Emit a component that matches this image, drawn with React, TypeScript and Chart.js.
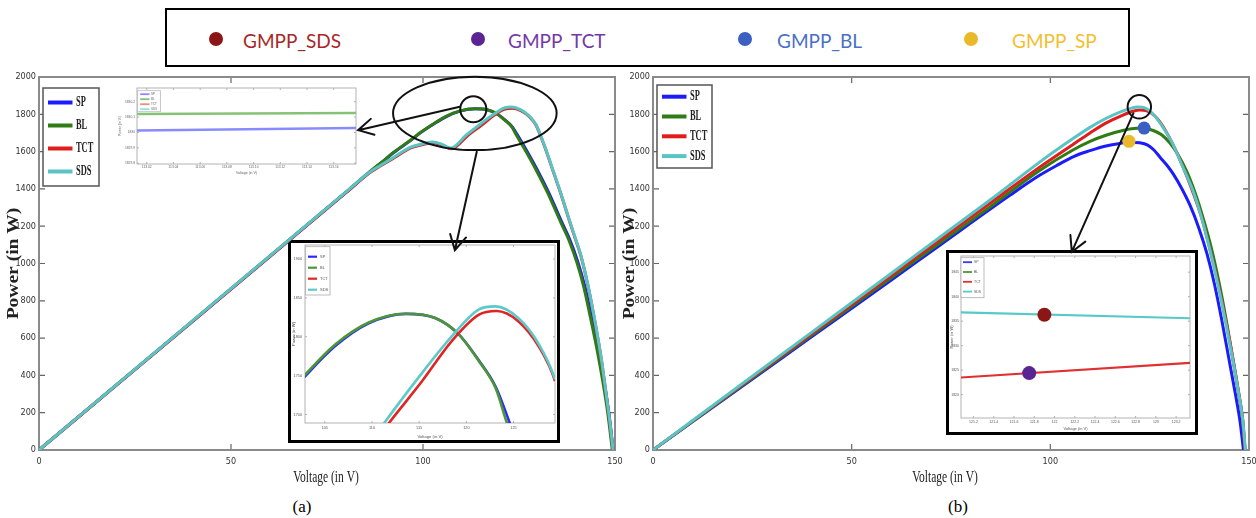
import React, { useEffect, useRef } from "react";
import { Chart, registerables } from "chart.js";
Chart.register(...registerables);

// ================= DATA =================
const seriesNames = ["SP", "BL", "TCT", "SDS"];
const gmppLabels = ["GMPP_SDS", "GMPP_TCT", "GMPP_BL", "GMPP_SP"];

// ---- panel (a): P–V curves (V in volts, P in watts) ----
const aSP_V = [0, 20, 40, 60, 80, 86, 90, 92.4, 96.8, 99.5, 102.9, 106.1, 109.6, 113.6, 116.7, 119.2, 121.3, 123.1, 124.6, 126.6, 129.8, 132.8, 136.3, 138.3, 140.3, 142.1, 143.8, 145.6, 147.1, 148.4, 149.5];
const aSP_P = [0, 345, 690, 1036, 1382, 1488, 1554, 1595, 1660, 1703, 1749, 1788, 1817, 1829.4, 1824, 1803, 1770, 1736, 1689, 1619, 1500, 1377, 1215, 1125, 1010, 880, 720, 540, 370, 200, 0];
const aBL_V = [0, 20, 40, 60, 80, 86, 90, 92.4, 96.8, 99.5, 102.9, 106.1, 109.6, 113.6, 116.7, 119.2, 121.3, 123.1, 124.3, 126.3, 129.5, 132.5, 136, 138, 140, 141.8, 143.5, 145.3, 146.8, 148.1, 149.3];
const aBL_P = [0, 346, 692, 1038, 1384, 1490, 1556, 1597, 1662, 1705, 1751, 1790, 1818, 1829.5, 1824, 1803, 1769, 1734, 1689, 1619, 1500, 1377, 1215, 1125, 1010, 880, 720, 540, 370, 200, 0];
const aTCT_V = [0, 20, 40, 60, 80, 86, 89, 92.4, 96.8, 100, 102.5, 104.5, 107.4, 111.8, 115.2, 118.5, 121.3, 123.2, 125.5, 127.7, 129.4, 131.5, 134.1, 136, 138, 139.6, 141.1, 143, 145, 146.5, 147.7, 148.7, 149.5];
const aTCT_P = [0, 345, 690, 1035, 1381, 1485, 1524, 1566, 1620, 1638, 1647, 1639, 1615, 1689, 1741, 1795, 1828, 1833, 1820, 1787, 1743, 1637, 1482, 1367, 1237, 1137, 1042, 877, 662, 477, 297, 142, 0];
const aSDS_V = [0, 20, 40, 60, 80, 86, 89, 92.4, 96.8, 100, 102.5, 104.5, 107.2, 111.3, 114.9, 118.5, 121.3, 123.1, 125.5, 127.7, 129.4, 131.5, 134.1, 136, 138, 139.6, 141.1, 143, 145, 146.5, 147.7, 148.7, 149.5];
const aSDS_P = [0, 346, 692, 1038, 1384, 1488, 1527, 1570, 1624, 1642, 1651, 1643, 1619, 1689, 1747, 1801, 1835, 1839, 1824, 1790, 1745, 1640, 1485, 1370, 1240, 1140, 1045, 880, 665, 480, 300, 145, 0];

// ---- panel (b) ----
const bSP_V = [0, 20, 40, 60, 72.2, 90, 97.4, 102, 106, 110, 114, 117.5, 119.8, 122.5, 124.5, 126, 127.6, 129.3, 131, 133, 135.2, 137.3, 139.4, 141.3, 143.2, 145.1, 146.7, 147.8, 148.6];
const bSP_P = [0, 304, 608, 912, 1098, 1368, 1474, 1530, 1575, 1605, 1630, 1644, 1650, 1647, 1635, 1610, 1570, 1528, 1478, 1405, 1310, 1195, 1054, 890, 690, 470, 285, 145, 0];
const bBL_V = [0, 20, 40, 60, 72.2, 85, 97.4, 105.8, 110, 114.2, 118, 121.8, 124, 125.9, 128, 130, 132, 134.3, 136.5, 138.5, 140.5, 142.3, 144.2, 146, 147.5, 148.4, 149];
const bBL_P = [0, 308, 616, 924, 1110, 1306, 1500, 1610, 1655, 1689, 1712, 1725, 1722, 1713, 1690, 1648, 1588, 1495, 1375, 1240, 1085, 915, 705, 480, 290, 160, 0];
const bTCT_V = [0, 20, 40, 60, 72.2, 85, 97.4, 105.8, 110, 114.2, 118, 120.8, 122.6, 124, 125.5, 127, 129, 131, 133.5, 136, 138.2, 140, 142, 144, 146, 147.5, 148.4, 149];
const bTCT_P = [0, 312, 624, 936, 1126, 1326, 1518, 1640, 1700, 1755, 1793, 1816, 1823, 1820, 1805, 1775, 1712, 1632, 1512, 1375, 1238, 1090, 915, 710, 485, 295, 165, 0];
const bSDS_V = [0, 20, 40, 60, 72.2, 85, 97.4, 105.8, 110, 114.2, 118, 120.5, 121.8, 123.2, 124.8, 126.8, 128.5, 130.7, 133, 135.9, 138, 140.2, 142, 144, 146, 147.5, 148.4, 149.1];
const bSDS_P = [0, 316, 632, 948, 1141, 1343, 1545, 1671, 1730, 1780, 1816, 1833, 1839, 1838, 1822, 1778, 1725, 1646, 1535, 1390, 1250, 1070, 905, 700, 475, 290, 165, 0];
const bGmppBL_V = [123.6];
const bGmppBL_P = [1726];
const bGmppSP_V = [119.8];
const bGmppSP_P = [1655];

// ---- inset a1 (zoom on SP / BL peak) ----
const a1_V = [113.0127, 113.1767];
const a1SP_P = [1830.012, 1830.029];
const a1BL_P = [1830.12, 1830.127];

// ---- inset b (zoom on TCT / SDS peaks) ----
const bz_V = [121.077, 123.337];
const bzSDS_P = [1836.8, 1835.6];
const bzTCT_P = [1823.5, 1826.5];
const bzGmppSDS_V = [121.9];
const bzGmppSDS_P = [1836.3];
const bzGmppTCT_V = [121.75];
const bzGmppTCT_P = [1824.4];

// ---- ticks & ranges ----
const mainXTicks = [0, 50, 100, 150];
const mainYTicks = [0, 200, 400, 600, 800, 1000, 1200, 1400, 1600, 1800, 2000];
const mainXRange = [0, 150];
const mainYRange = [0, 2000];
const a1XTicks = [113.02, 113.04, 113.06, 113.08, 113.1, 113.12, 113.14, 113.16];
const a1YTicks = [1829.8, 1829.9, 1830, 1830.1, 1830.2];
const a1XRange = [113.0127, 113.1767];
const a1YRange = [1829.795, 1830.289];
const a2XTicks = [105, 110, 115, 120, 125];
const a2YTicks = [1700, 1750, 1800, 1850, 1900];
const a2XRange = [102.9, 129.4];
const a2YRange = [1689, 1918];
const bzXTicks = [121.2, 121.4, 121.6, 121.8, 122, 122.2, 122.4, 122.6, 122.8, 123, 123.2];
const bzYTicks = [1820, 1825, 1830, 1835, 1840, 1845];
const bzXRange = [121.077, 123.337];
const bzYRange = [1815.24, 1848.3];

// ---- annotation callouts (data coordinates of each panel) ----
const aEllipses = [
  { x: 113.5, y: 1805, rx: 21.3, ry: 197 },
  { x: 113.1, y: 1827, rx: 3.4, ry: 70 },
];
const aArrows = [
  { x0: 109.6, y0: 1840, x1: 83.1, y1: 1715 },
  { x0: 114, y0: 1599, x1: 108.3, y1: 1071 },
];
const bEllipses = [{ x: 122.4, y: 1840, rx: 2.95, ry: 63 }];
const bArrows = [{ x0: 120.9, y0: 1805, x1: 105.4, y1: 1062 }];

// ================= STYLE =================
const MAIN_COL = { SP: "#1c1cfa", BL: "#2f7b14", TCT: "#e01c1c", SDS: "#58c4c4" };
const A1_COL = { SP: "#8a8aff", BL: "#86c275", TCT: "#f08a8a", SDS: "#90dede" };
const A2_COL = { SP: "#2a2aff", BL: "#4c9734", TCT: "#e02424", SDS: "#5ec9c9" };
const BZ_COL = { SP: "#3636ff", BL: "#4c9734", TCT: "#e03030", SDS: "#58c8c8" };
const DOT = { SDS: "#8c1616", TCT: "#5a2592", BL: "#3b5fc2", SP: "#e9b92a" };
const TXT = { SDS: "#a62828", TCT: "#7438a8", BL: "#4a6fc8", SP: "#f0c030" };

const F_TICK = "'Liberation Sans Narrow', 'DejaVu Sans Condensed', 'Liberation Sans', Arial, sans-serif";
const F_SERIF = "'Liberation Serif', 'DejaVu Serif', serif";
const F_SANS = "'Liberation Sans', Arial, sans-serif";

const pts = (V: number[], P: number[]) => V.map((v, i) => ({ x: v, y: P[i] }));

const lineDs = (label: string, V: number[], P: number[], color: string, width: number, order: number) => ({
  label, data: pts(V, P), borderColor: color, backgroundColor: color, borderWidth: width,
  pointRadius: 0, fill: false, cubicInterpolationMode: "monotone", order,
});
const dotDs = (label: string, V: number[], P: number[], color: string, r: number) => ({
  label, marker: true, data: pts(V, P), showLine: false, pointRadius: r, pointBackgroundColor: color,
  pointBorderWidth: 0, borderColor: color, backgroundColor: color, order: -1,
});

// ================= PLUGINS =================
const boxPlugin = (o: any) => ({
  id: "mBox",
  beforeDatasetsDraw(chart: any) {
    const { ctx, chartArea: a, scales } = chart;
    ctx.save();
    ctx.strokeStyle = o.tickColor;
    ctx.lineWidth = o.tickWidth;
    ctx.beginPath();
    for (const t of scales.x.ticks) {
      const p = scales.x.getPixelForValue(t.value);
      ctx.moveTo(p, a.bottom); ctx.lineTo(p, a.bottom - o.len);
      ctx.moveTo(p, a.top); ctx.lineTo(p, a.top + o.len);
    }
    for (const t of scales.y.ticks) {
      const p = scales.y.getPixelForValue(t.value);
      ctx.moveTo(a.left, p); ctx.lineTo(a.left + o.len, p);
      ctx.moveTo(a.right, p); ctx.lineTo(a.right - o.len, p);
    }
    ctx.stroke();
    ctx.strokeStyle = o.color;
    ctx.lineWidth = o.width;
    ctx.strokeRect(a.left, a.top, a.right - a.left, a.bottom - a.top);
    ctx.restore();
  },
});

const legendPlugin = (o: any) => ({
  id: "boxLegend",
  afterDatasetsDraw(chart: any) {
    const { ctx, chartArea: a } = chart;
    const x0 = a.left + o.x, y0 = a.top + o.y;
    ctx.save();
    ctx.fillStyle = "#fff";
    ctx.fillRect(x0, y0, o.w, o.h);
    ctx.strokeStyle = o.border;
    ctx.lineWidth = o.borderWidth;
    ctx.strokeRect(x0, y0, o.w, o.h);
    const items = chart.data.datasets.filter((d: any) => d.label && !d.marker);
    items.forEach((d: any, i: number) => {
      const y = y0 + o.first + i * o.step;
      ctx.strokeStyle = d.borderColor;
      ctx.lineWidth = o.lineWidth;
      ctx.beginPath();
      ctx.moveTo(x0 + o.sx0, y); ctx.lineTo(x0 + o.sx1, y);
      ctx.stroke();
      ctx.save();
      ctx.translate(x0 + o.tx, y);
      ctx.scale(o.scaleX, 1);
      ctx.font = o.font;
      ctx.fillStyle = o.color;
      ctx.textBaseline = "middle";
      ctx.fillText(d.label, 0, 0);
      ctx.restore();
    });
    ctx.restore();
  },
});

const xTitlePlugin = (o: any) => ({
  id: "xTitle",
  afterDraw(chart: any) {
    const { ctx, chartArea: a } = chart;
    ctx.save();
    ctx.translate((a.left + a.right) / 2 + (o.dx || 0), a.bottom + o.dy);
    ctx.scale(o.scaleX || 1, 1);
    ctx.font = o.font; ctx.fillStyle = o.color;
    ctx.textAlign = "center"; ctx.textBaseline = "middle";
    ctx.fillText(o.text, 0, 0);
    ctx.restore();
  },
});

const yTitlePlugin = (o: any) => ({
  id: "yTitle",
  afterDraw(chart: any) {
    const { ctx, chartArea: a } = chart;
    ctx.save();
    ctx.translate(o.x, (a.top + a.bottom) / 2 + (o.dy || 0));
    ctx.rotate(-Math.PI / 2);
    ctx.scale(o.stretch || 1, 1);
    ctx.font = o.font; ctx.fillStyle = o.color;
    ctx.textAlign = "center"; ctx.textBaseline = "middle";
    ctx.fillText(o.text, 0, 0);
    ctx.restore();
  },
});

const calloutPlugin = (ellipses: any[], arrows: any[]) => ({
  id: "callouts",
  afterDraw(chart: any) {
    const { ctx, scales: { x, y } } = chart;
    ctx.save();
    ctx.strokeStyle = "#111";
    ctx.lineWidth = 2;
    ctx.lineCap = "round";
    for (const e of ellipses) {
      const cx = x.getPixelForValue(e.x), cy = y.getPixelForValue(e.y);
      const rx = Math.abs(x.getPixelForValue(e.x + e.rx) - cx);
      const ry = Math.abs(y.getPixelForValue(e.y + e.ry) - cy);
      ctx.beginPath(); ctx.ellipse(cx, cy, rx, ry, 0, 0, Math.PI * 2); ctx.stroke();
    }
    for (const r of arrows) {
      const ax = x.getPixelForValue(r.x0), ay = y.getPixelForValue(r.y0);
      const bx = x.getPixelForValue(r.x1), by = y.getPixelForValue(r.y1);
      const ang = Math.atan2(by - ay, bx - ax);
      const h = 17, s = 0.5;
      ctx.beginPath();
      ctx.moveTo(ax, ay); ctx.lineTo(bx, by);
      ctx.moveTo(bx - h * Math.cos(ang - s), by - h * Math.sin(ang - s));
      ctx.lineTo(bx, by);
      ctx.lineTo(bx - h * Math.cos(ang + s), by - h * Math.sin(ang + s));
      ctx.stroke();
    }
    ctx.restore();
  },
});

// ================= CONFIG BUILDER =================
type Area = { L: number; T: number; R: number; B: number };
const canvasBox = (a: Area, wy: number, hx: number, pt: number, pr: number) => ({
  left: a.L - wy, top: a.T - pt, width: a.R - a.L + wy + pr, height: a.B - a.T + pt + hx,
});

function makeConfig(p: any) {
  return {
    type: "line",
    data: { datasets: p.datasets },
    plugins: p.plugins,
    options: {
      animation: false,
      responsive: false,
      maintainAspectRatio: false,
      devicePixelRatio: 1,
      events: [],
      layout: { padding: { left: 0, top: p.pt, right: p.pr, bottom: 0 } },
      plugins: { legend: { display: false }, tooltip: { enabled: false } },
      scales: {
        x: {
          type: "linear", min: p.xr[0], max: p.xr[1],
          grid: { display: false, drawTicks: false }, border: { display: false },
          ticks: { padding: p.xPad, font: { family: p.tickFamily, size: p.tickSize }, color: p.tickColor, maxRotation: 0, autoSkip: false, includeBounds: false, callback: p.fmtX },
          afterBuildTicks: (s: any) => { s.ticks = p.xTicks.map((v: number) => ({ value: v })); },
          afterFit: (s: any) => { s.height = p.hx; },
        },
        y: {
          type: "linear", min: p.yr[0], max: p.yr[1],
          grid: { display: false, drawTicks: false }, border: { display: false },
          ticks: { padding: p.yPad, font: { family: p.tickFamily, size: p.tickSize }, color: p.tickColor, autoSkip: false, includeBounds: false, callback: p.fmtY },
          afterBuildTicks: (s: any) => { s.ticks = p.yTicks.map((v: number) => ({ value: v })); },
          afterFit: (s: any) => { s.width = p.wy; },
        },
      },
    },
  };
}

const fmtInt = (v: any) => String(Math.round(Number(v)));
const fmt1 = (v: any) => String(Math.round(Number(v) * 10) / 10);
const fmt2 = (v: any) => Number(v).toFixed(2);

const seriesSets = (V: number[][], P: number[][], col: any, w: number) =>
  seriesNames.map((n, i) => lineDs(n, V[i], P[i], col[n], w, 4 - i));

// ---------- panel (a) main ----------
const areaA: Area = { L: 39, T: 77, R: 615, B: 450 };
const boxA = canvasBox(areaA, 39, 40, 10, 18);
const mainLegendCommon = { sx0: 5, sx1: 29.5, tx: 33, lineWidth: 4, font: `bold 14px ${F_SERIF}`, scaleX: 0.6, color: "#222", border: "#555", borderWidth: 1.5 };
const mainBox = { color: "#8a8a8a", width: 2, tickColor: "#666", tickWidth: 1.2, len: 6 };

const cfgA = () => makeConfig({
  datasets: seriesSets([aSP_V, aBL_V, aTCT_V, aSDS_V], [aSP_P, aBL_P, aTCT_P, aSDS_P], MAIN_COL, 3),
  plugins: [
    boxPlugin(mainBox),
    legendPlugin({ ...mainLegendCommon, x: 4, y: 11, w: 56, h: 98, first: 14.5, step: 23 }),
    xTitlePlugin({ text: "Voltage (in V)", dy: 28, dx: -1, font: `16px ${F_SERIF}`, scaleX: 0.72, color: "#222" }),
    yTitlePlugin({ text: "Power (in W)", x: 14, font: `bold 16px ${F_SERIF}`, stretch: 1.22, color: "#222" }),
    calloutPlugin(aEllipses, aArrows),
  ],
  pt: 10, pr: 18, wy: 39, hx: 40, xr: mainXRange, yr: mainYRange, xTicks: mainXTicks, yTicks: mainYTicks,
  xPad: 6.6, yPad: 3, tickFamily: F_TICK, tickSize: 9, tickColor: "#333", fmtX: fmtInt, fmtY: fmtInt,
});

// ---------- panel (b) main ----------
const areaB: Area = { L: 653, T: 77, R: 1249, B: 450 };
const boxB = canvasBox(areaB, 39, 40, 10, 18);
const cfgB = () => makeConfig({
  datasets: [
    ...seriesSets([bSP_V, bBL_V, bTCT_V, bSDS_V], [bSP_P, bBL_P, bTCT_P, bSDS_P], MAIN_COL, 3),
    dotDs(gmppLabels[2], bGmppBL_V, bGmppBL_P, DOT.BL, 6.5),
    dotDs(gmppLabels[3], bGmppSP_V, bGmppSP_P, DOT.SP, 6.5),
  ],
  plugins: [
    boxPlugin(mainBox),
    legendPlugin({ ...mainLegendCommon, x: 4, y: 8, w: 55, h: 83, first: 11.7, step: 19.8 }),
    xTitlePlugin({ text: "Voltage (in V)", dy: 28, dx: -6, font: `16px ${F_SERIF}`, scaleX: 0.72, color: "#222" }),
    yTitlePlugin({ text: "Power (in W)", x: 16, font: `bold 16px ${F_SERIF}`, stretch: 1.22, color: "#222" }),
    calloutPlugin(bEllipses, bArrows),
  ],
  pt: 10, pr: 18, wy: 39, hx: 40, xr: mainXRange, yr: mainYRange, xTicks: mainXTicks, yTicks: mainYTicks,
  xPad: 6.6, yPad: 3, tickFamily: F_TICK, tickSize: 9, tickColor: "#333", fmtX: fmtInt, fmtY: fmtInt,
});

// ---------- inset a1 ----------
const insetBox = { color: "#b4b4b4", width: 1, tickColor: "#9a9a9a", tickWidth: 0.8, len: 2 };
const areaA1: Area = { L: 137, T: 88, R: 356, B: 164 };
const boxA1 = canvasBox(areaA1, 22, 14, 6, 10);
const cfgA1 = () => makeConfig({
  datasets: [
    lineDs("SP", a1_V, a1SP_P, A1_COL.SP, 2.5, 4),
    lineDs("BL", a1_V, a1BL_P, A1_COL.BL, 2.5, 3),
    lineDs("TCT", [], [], A1_COL.TCT, 2.5, 2),
    lineDs("SDS", [], [], A1_COL.SDS, 2.5, 1),
  ],
  plugins: [
    boxPlugin(insetBox),
    legendPlugin({ x: 0.5, y: 2.7, w: 23, h: 21, first: 3.5, step: 5, sx0: 2.7, sx1: 12, tx: 13.4, lineWidth: 1.8, font: `3px ${F_SANS}`, scaleX: 1, color: "#666", border: "#bbb", borderWidth: 0.8 }),
    xTitlePlugin({ text: "Voltage (in V)", dy: 9, font: `3.5px ${F_SANS}`, color: "#666" }),
    yTitlePlugin({ text: "Power (in W)", x: 5, font: `3.5px ${F_SANS}`, color: "#666" }),
  ],
  pt: 6, pr: 10, wy: 22, hx: 14, xr: a1XRange, yr: a1YRange, xTicks: a1XTicks, yTicks: a1YTicks,
  xPad: 0.9, yPad: 2, tickFamily: F_SANS, tickSize: 3.3, tickColor: "#666", fmtX: fmt2, fmtY: fmt1,
});

// ---------- inset a2 ----------
const areaA2: Area = { L: 305, T: 245, R: 555, B: 423 };
const boxA2 = canvasBox(areaA2, 14, 18, 6, 5);
const cfgA2 = () => makeConfig({
  datasets: seriesSets([aSP_V, aBL_V, aTCT_V, aSDS_V], [aSP_P, aBL_P, aTCT_P, aSDS_P], A2_COL, 2.6),
  plugins: [
    boxPlugin(insetBox),
    legendPlugin({ x: 0.7, y: 1.7, w: 24.3, h: 48.3, first: 10, step: 11, sx0: 2.3, sx1: 11.3, tx: 14.3, lineWidth: 2.2, font: `4px ${F_SANS}`, scaleX: 1, color: "#555", border: "#aaa", borderWidth: 0.8 }),
    xTitlePlugin({ text: "Voltage (in V)", dy: 13.7, font: `4.2px ${F_SANS}`, color: "#555" }),
    yTitlePlugin({ text: "Power (in W)", x: 3, font: `4.2px ${F_SANS}`, color: "#555" }),
  ],
  pt: 6, pr: 5, wy: 14, hx: 18, xr: a2XRange, yr: a2YRange, xTicks: a2XTicks, yTicks: a2YTicks,
  xPad: 2.3, yPad: 3, tickFamily: F_SANS, tickSize: 3.8, tickColor: "#555", fmtX: fmtInt, fmtY: fmtInt,
});

// ---------- inset b ----------
const areaBZ: Area = { L: 961, T: 255, R: 1192, B: 418 };
const boxBZ = canvasBox(areaBZ, 12, 16, 6, 5);
const cfgBZ = () => makeConfig({
  datasets: [
    lineDs("SP", [], [], BZ_COL.SP, 2.2, 4),
    lineDs("BL", [], [], BZ_COL.BL, 2.2, 3),
    lineDs("TCT", bz_V, bzTCT_P, BZ_COL.TCT, 2.2, 2),
    lineDs("SDS", bz_V, bzSDS_P, BZ_COL.SDS, 2.2, 1),
    dotDs(gmppLabels[0], bzGmppSDS_V, bzGmppSDS_P, DOT.SDS, 7),
    dotDs(gmppLabels[1], bzGmppTCT_V, bzGmppTCT_P, DOT.TCT, 7),
  ],
  plugins: [
    boxPlugin(insetBox),
    legendPlugin({ x: 0, y: 1.7, w: 23, h: 40, first: 4.5, step: 9.8, sx0: 2, sx1: 11, tx: 13, lineWidth: 1.8, font: `3.5px ${F_SANS}`, scaleX: 1, color: "#555", border: "#aaa", borderWidth: 0.8 }),
    xTitlePlugin({ text: "Voltage (in V)", dy: 11.3, font: `4px ${F_SANS}`, color: "#555" }),
    yTitlePlugin({ text: "Power (in W)", x: 2.4, font: `4px ${F_SANS}`, color: "#555" }),
  ],
  pt: 6, pr: 5, wy: 12, hx: 16, xr: bzXRange, yr: bzYRange, xTicks: bzXTicks, yTicks: bzYTicks,
  xPad: 2.2, yPad: 2, tickFamily: F_SANS, tickSize: 3.5, tickColor: "#555", fmtX: fmt1, fmtY: fmtInt,
});

// ================= COMPONENTS =================
function ChartCanvas({ box, config }: { box: any; config: () => any }) {
  const ref = useRef<HTMLCanvasElement>(null);
  useEffect(() => {
    const chart = new Chart(ref.current as HTMLCanvasElement, config() as any);
    return () => chart.destroy();
  }, []);
  return (
    <canvas
      ref={ref}
      width={box.width}
      height={box.height}
      style={{ position: "absolute", left: box.left, top: box.top, width: box.width, height: box.height }}
    />
  );
}

const legendItems = [
  { label: gmppLabels[0], dot: DOT.SDS, txt: TXT.SDS, dx: 216, tx: 243 },
  { label: gmppLabels[1], dot: DOT.TCT, txt: TXT.TCT, dx: 478, tx: 508 },
  { label: gmppLabels[2], dot: DOT.BL, txt: TXT.BL, dx: 745, tx: 777 },
  { label: gmppLabels[3], dot: DOT.SP, txt: TXT.SP, dx: 971, tx: 1012 },
];

export default function App() {
  return (
    <div style={{ position: "absolute", left: 0, top: 0, width: 1256, height: 518, background: "#fff", overflow: "hidden" }}>
      {/* inset frames */}
      <div style={{ position: "absolute", left: 288, top: 240, width: 272, height: 203, boxSizing: "border-box", border: "3px solid #000", background: "#fff" }} />
      <div style={{ position: "absolute", left: 946, top: 250, width: 252, height: 185, boxSizing: "border-box", border: "3px solid #000", background: "#fff" }} />
      {/* insets */}
      <ChartCanvas box={boxA1} config={cfgA1} />
      <ChartCanvas box={boxA2} config={cfgA2} />
      <ChartCanvas box={boxBZ} config={cfgBZ} />
      {/* main panels */}
      <ChartCanvas box={boxA} config={cfgA} />
      <ChartCanvas box={boxB} config={cfgB} />
      {/* GMPP legend */}
      <div style={{ position: "absolute", left: 165, top: 8, width: 965, height: 59, boxSizing: "border-box", border: "2px solid #000", background: "#fff" }} />
      {legendItems.map((it) => (
        <React.Fragment key={it.label}>
          <div style={{ position: "absolute", left: it.dx - 7, top: 32, width: 14, height: 14, borderRadius: "50%", background: it.dot }} />
          <div style={{ position: "absolute", left: it.tx, top: 31, height: 20, lineHeight: "20px", fontFamily: "Lato, 'Open Sans', sans-serif", fontSize: 19, color: it.txt, whiteSpace: "nowrap" }}>
            {it.label}
          </div>
        </React.Fragment>
      ))}
      {/* captions */}
      <div style={{ position: "absolute", left: 272, top: 497, width: 60, textAlign: "center", fontFamily: F_SERIF, fontSize: 17, lineHeight: "20px", color: "#000" }}>(a)</div>
      <div style={{ position: "absolute", left: 928, top: 497, width: 60, textAlign: "center", fontFamily: F_SERIF, fontSize: 17, lineHeight: "20px", color: "#000" }}>(b)</div>
    </div>
  );
}
